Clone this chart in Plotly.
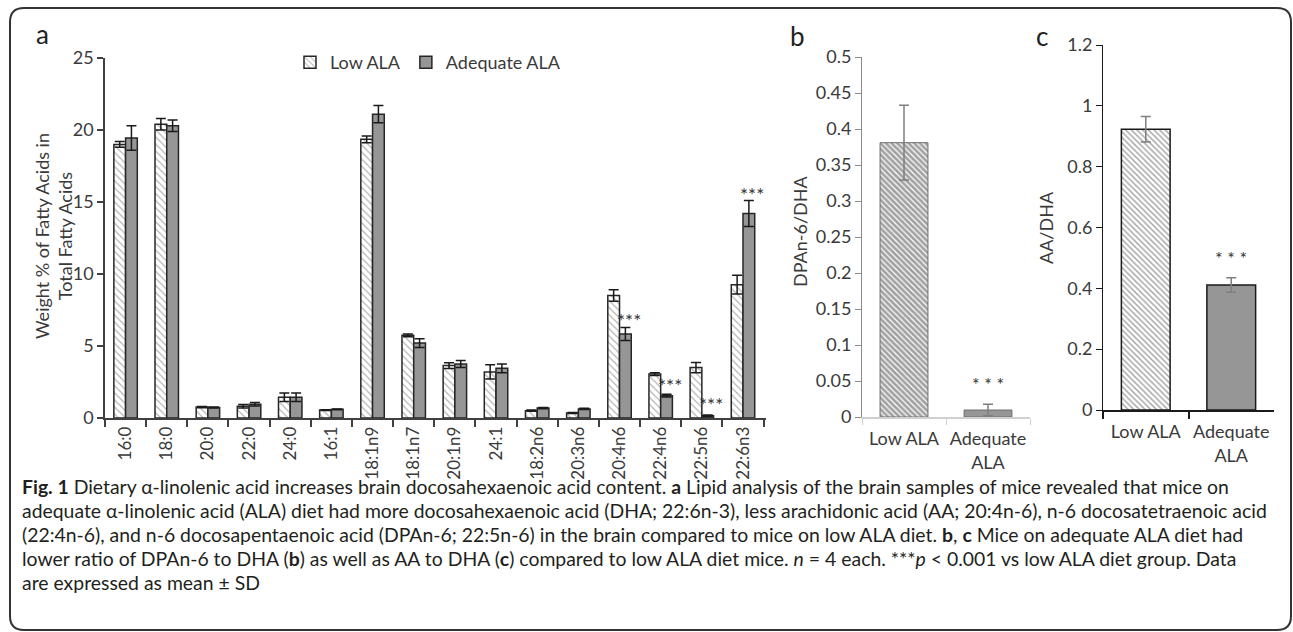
import plotly.graph_objects as go

# ---------------- data ----------------
fatty_acids = ["16:0", "18:0", "20:0", "22:0", "24:0", "16:1", "18:1n9", "18:1n7",
               "20:1n9", "24:1", "18:2n6", "20:3n6", "20:4n6", "22:4n6", "22:5n6", "22:6n3"]
low_ala = [19.0, 20.4, 0.76, 0.81, 1.44, 0.55, 19.35, 5.74, 3.64, 3.2, 0.51, 0.35, 8.5, 3.05, 3.5, 9.26]
low_ala_sd = [0.2, 0.4, 0.04, 0.12, 0.3, 0.03, 0.23, 0.1, 0.2, 0.5, 0.04, 0.04, 0.4, 0.1, 0.35, 0.65]
adequate_ala = [19.45, 20.3, 0.73, 0.95, 1.44, 0.6, 21.1, 5.2, 3.75, 3.45, 0.69, 0.63, 5.83, 1.55, 0.15, 14.2]
adequate_ala_sd = [0.85, 0.4, 0.04, 0.12, 0.3, 0.03, 0.6, 0.3, 0.25, 0.3, 0.04, 0.04, 0.45, 0.1, 0.05, 0.9]
signif_a = ["20:4n6", "22:4n6", "22:5n6", "22:6n3"]
signif_a_y = [6.8, 2.25, 0.95, 15.5]

groups = ["Low ALA", "Adequate<br>ALA"]
dpa_dha = [0.381, 0.0097]
dpa_dha_sd = [0.052, 0.008]
aa_dha = [0.923, 0.411]
aa_dha_sd = [0.042, 0.024]

caption_lines = [
    "<b>Fig. 1</b> Dietary α-linolenic acid increases brain docosahexaenoic acid content. <b>a</b> Lipid analysis of the brain samples of mice revealed that mice on",
    "adequate α-linolenic acid (ALA) diet had more docosahexaenoic acid (DHA; 22:6n-3), less arachidonic acid (AA; 20:4n-6), n-6 docosatetraenoic acid",
    "(22:4n-6), and n-6 docosapentaenoic acid (DPAn-6; 22:5n-6) in the brain compared to mice on low ALA diet. <b>b</b>, <b>c</b> Mice on adequate ALA diet had",
    "lower ratio of DPAn-6 to DHA (<b>b</b>) as well as AA to DHA (<b>c</b>) compared to low ALA diet mice. <i>n</i> = 4 each. ***<i>p</i> &lt; 0.001 vs low ALA diet group. Data",
    "are expressed as mean ± SD",
]

W, H = 1293, 632
FONT = "Lato"
TXT = "#3a3a3a"
GRAY_FILL = "#969696"


def px_x(p):
    return p / W


def px_y(p):
    return 1 - p / H


fig = go.Figure()

# ---------------- panel a ----------------
fig.add_trace(go.Bar(
    x=fatty_acids, y=low_ala, name="Low ALA", xaxis="x", yaxis="y",
    marker=dict(color="white", line=dict(color="#262626", width=1.5),
                pattern=dict(shape="\\", fgcolor="#6a6a6a", bgcolor="white", size=5, solidity=0.25)),
    error_y=dict(type="data", array=low_ala_sd, color="#1a1a1a", thickness=1.5, width=5),
))
fig.add_trace(go.Bar(
    x=fatty_acids, y=adequate_ala, name="Adequate ALA", xaxis="x", yaxis="y",
    marker=dict(color=GRAY_FILL, line=dict(color="#262626", width=1.5)),
    error_y=dict(type="data", array=adequate_ala_sd, color="#1a1a1a", thickness=1.5, width=5),
))

# ---------------- panel b ----------------
fig.add_trace(go.Bar(
    x=groups, y=dpa_dha, xaxis="x2", yaxis="y2", showlegend=False,
    marker=dict(color=["white", GRAY_FILL], line=dict(color="#6f6f6f", width=1),
                pattern=dict(shape=["\\", ""], fgcolor="#000000", bgcolor="white", size=4, solidity=0.7)),
    error_y=dict(type="data", array=dpa_dha_sd, color="#7f7f7f", thickness=1.5, width=5),
))

# ---------------- panel c ----------------
fig.add_trace(go.Bar(
    x=groups, y=aa_dha, xaxis="x3", yaxis="y3", showlegend=False,
    marker=dict(color=["white", GRAY_FILL], line=dict(color="#1a1a1a", width=1.5),
                pattern=dict(shape=["\\", ""], fgcolor="#9a9a9a", bgcolor="white", size=4, solidity=0.35)),
    error_y=dict(type="data", array=aa_dha_sd, color="#7f7f7f", thickness=1.5, width=5),
))

tickfont = dict(family=FONT, size=18, color=TXT)

fig.update_layout(
    width=W, height=H,
    margin=dict(l=0, r=0, t=0, b=0, autoexpand=False),
    paper_bgcolor="white", plot_bgcolor="white",
    barmode="group", bargap=0.43, bargroupgap=0.0,
    font=dict(family=FONT, color=TXT),
    legend=dict(orientation="h", x=px_x(290), y=px_y(44), xanchor="left", yanchor="top",
                font=dict(family=FONT, size=18, color=TXT), bgcolor="rgba(0,0,0,0)",
                itemwidth=30, tracegroupgap=0),
    xaxis=dict(domain=[px_x(105), px_x(766)], anchor="y", type="category",
               showline=True, linecolor="#404040", linewidth=1.5,
               ticks="outside", tickson="boundaries", ticklen=7, tickcolor="#404040", tickwidth=1.5,
               tickangle=-90, tickfont=dict(family=FONT, size=17, color=TXT), showgrid=False),
    yaxis=dict(domain=[px_y(418), px_y(58)], anchor="x", range=[0, 25], dtick=5,
               showline=True, linecolor="#404040", linewidth=1.5,
               ticks="outside", ticklen=6, tickcolor="#404040", tickwidth=1.5,
               tickfont=tickfont, showgrid=False, zeroline=False),
    xaxis2=dict(domain=[px_x(862), px_x(1030)], anchor="y2", type="category",
                showline=True, linecolor="#d0d0d0", linewidth=1.5, tickangle=0, ticklabelstandoff=5,
                ticks="outside", tickson="boundaries", ticklen=6, tickcolor="#d0d0d0",
                tickfont=tickfont, showgrid=False),
    yaxis2=dict(domain=[px_y(417), px_y(57)], anchor="x2", range=[0, 0.5], dtick=0.05,
                tickformat="~g",
                showline=True, linecolor="#8a8a8a", linewidth=1,
                ticks="outside", ticklen=6, tickcolor="#8a8a8a",
                tickfont=tickfont, showgrid=False, zeroline=False),
    xaxis3=dict(domain=[px_x(1103), px_x(1274)], anchor="y3", type="category",
                showline=True, linecolor="#1a1a1a", linewidth=1.5, tickangle=0, ticklabelstandoff=5,
                ticks="outside", tickson="boundaries", ticklen=7, tickcolor="#1a1a1a", tickwidth=1.5,
                tickfont=tickfont, showgrid=False),
    yaxis3=dict(domain=[px_y(410), px_y(45)], anchor="x3", range=[0, 1.2], dtick=0.2,
                tickformat="~g",
                showline=True, linecolor="#1a1a1a", linewidth=1,
                ticks="outside", ticklen=6, tickcolor="#1a1a1a",
                tickfont=tickfont, showgrid=False, zeroline=False),
)

ann = []
# panel letters
ann.append(dict(text="a", x=px_x(42), y=px_y(34), xref="paper", yref="paper", showarrow=False,
                font=dict(family=FONT, size=26, color="#222"), xanchor="center", yanchor="middle"))
ann.append(dict(text="b", x=px_x(797), y=px_y(36), xref="paper", yref="paper", showarrow=False,
                font=dict(family=FONT, size=26, color="#222"), xanchor="center", yanchor="middle"))
ann.append(dict(text="c", x=px_x(1042), y=px_y(36), xref="paper", yref="paper", showarrow=False,
                font=dict(family=FONT, size=26, color="#222"), xanchor="center", yanchor="middle"))
# axis titles
ann.append(dict(text="Weight % of Fatty Acids in<br>Total Fatty Acids", x=px_x(53), y=px_y(236),
                xref="paper", yref="paper", showarrow=False, textangle=-90,
                font=dict(family=FONT, size=18, color=TXT), xanchor="center", yanchor="middle"))
ann.append(dict(text="DPAn-6/DHA", x=px_x(800), y=px_y(232), xref="paper", yref="paper",
                showarrow=False, textangle=-90, font=dict(family=FONT, size=18, color=TXT),
                xanchor="center", yanchor="middle"))
ann.append(dict(text="AA/DHA", x=px_x(1046), y=px_y(228), xref="paper", yref="paper",
                showarrow=False, textangle=-90, font=dict(family=FONT, size=18, color=TXT),
                xanchor="center", yanchor="middle"))
# significance markers
for cat, yv in zip(signif_a, signif_a_y):
    ann.append(dict(text="***", x=cat, y=yv, xref="x", yref="y", xshift=9, showarrow=False,
                    font=dict(family=FONT, size=19, color="#333333"), xanchor="center", yanchor="middle"))
ann.append(dict(text="* * *", x=groups[1], y=dpa_dha[1] + dpa_dha_sd[1], xref="x2", yref="y2",
                yshift=20, showarrow=False, font=dict(family=FONT, size=18, color="#333333"),
                xanchor="center", yanchor="middle"))
ann.append(dict(text="* * *", x=groups[1], y=aa_dha[1] + aa_dha_sd[1], xref="x3", yref="y3",
                yshift=20, showarrow=False, font=dict(family=FONT, size=18, color="#333333"),
                xanchor="center", yanchor="middle"))
# caption
for i, line in enumerate(caption_lines):
    ann.append(dict(text=line, x=px_x(20), y=px_y(486 + 24 * i), xref="paper", yref="paper",
                    showarrow=False, xanchor="left", yanchor="middle", align="left",
                    font=dict(family=FONT, size=19.4, color="#231f20")))
fig.update_layout(annotations=ann)

# rounded frame
x0, x1, y0, y1 = px_x(10), px_x(1291), px_y(8), px_y(630)
rx, ry = 14 / W, 14 / H
path = (f"M {x0 + rx},{y0} L {x1 - rx},{y0} Q {x1},{y0} {x1},{y0 - ry} "
        f"L {x1},{y1 + ry} Q {x1},{y1} {x1 - rx},{y1} L {x0 + rx},{y1} Q {x0},{y1} {x0},{y1 + ry} "
        f"L {x0},{y0 - ry} Q {x0},{y0} {x0 + rx},{y0} Z")
fig.add_shape(type="path", path=path, xref="paper", yref="paper",
              line=dict(color="#333333", width=2), layer="below")

fig.write_html("out.html", config={"displayModeBar": False},
               post_script="document.body.style.margin='0';document.body.style.overflow='hidden';")
